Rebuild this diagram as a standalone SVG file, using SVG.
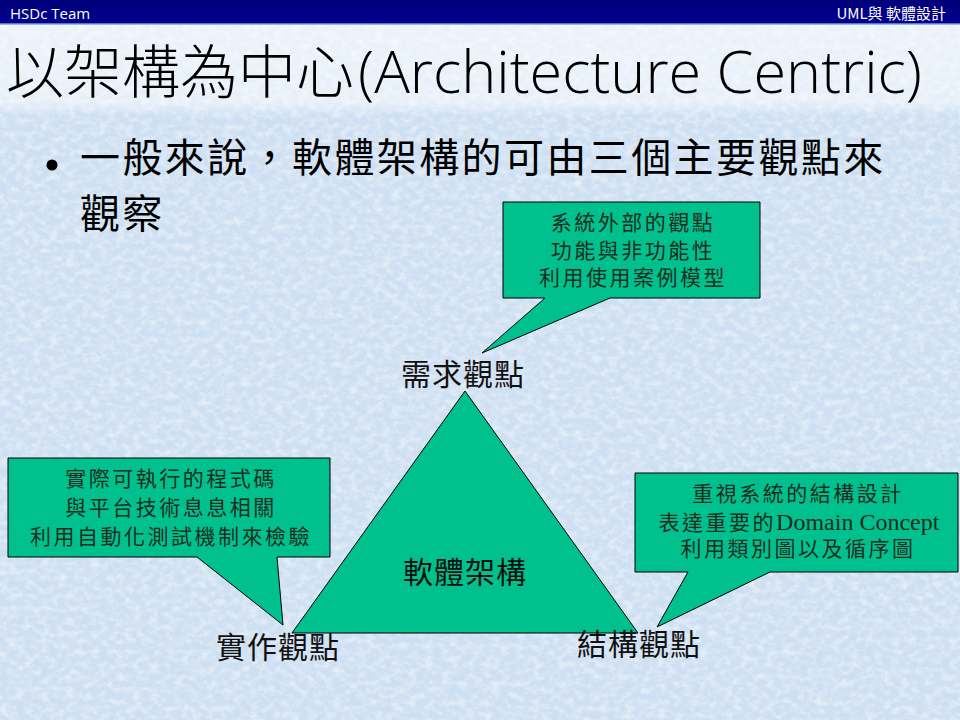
<svg xmlns="http://www.w3.org/2000/svg" width="960" height="720" viewBox="0 0 960 720">
  <defs>
    <linearGradient id="hdr" x1="0" y1="0" x2="0" y2="1">
      <stop offset="0" stop-color="#00007a"/>
      <stop offset="1" stop-color="#000090"/>
    </linearGradient>
    <filter id="tex" x="0" y="0" width="100%" height="100%">
      <feTurbulence type="fractalNoise" baseFrequency="0.12 0.16" numOctaves="4" seed="7" result="n"/>
      <feColorMatrix in="n" type="matrix" values="0 0 0 0 1  0 0 0 0 1  0 0 0 0 1  1.8 0 0 0 -0.7"/>
    </filter>
    <filter id="tex2" x="0" y="0" width="100%" height="100%">
      <feTurbulence type="fractalNoise" baseFrequency="0.2" numOctaves="3" seed="3" result="n"/>
      <feColorMatrix in="n" type="matrix" values="0 0 0 0 0.66  0 0 0 0 0.77  0 0 0 0 0.9  1.6 0 0 0 -0.75"/>
    </filter>
    <linearGradient id="top" x1="0" y1="0" x2="0" y2="1">
      <stop offset="0" stop-color="#ffffff" stop-opacity="0.6"/>
      <stop offset="0.85" stop-color="#ffffff" stop-opacity="0.5"/>
      <stop offset="1" stop-color="#ffffff" stop-opacity="0"/>
    </linearGradient>
  </defs>
  <style>
    .cjk { font-family: "Noto Sans CJK TC", "Noto Sans CJK SC", sans-serif; }
    .lat { font-family: "Open Sans", "Noto Sans", "Liberation Sans", sans-serif; }
    .call { fill: #00c08e; stroke: #000000; stroke-width: 1; }
    .ctext { font-family: "Noto Sans CJK TC", "Noto Sans CJK SC", sans-serif; font-size: 21px; letter-spacing: 2.5px; fill: #1c2e22; text-anchor: middle; }
    .label { font-family: "Noto Sans CJK TC", "Noto Sans CJK SC", sans-serif; font-size: 30px; letter-spacing: 1px; fill: #111111; }
    .serif { font-family: "Liberation Serif", "Times New Roman", serif; font-size: 24px; letter-spacing: 0; }
  </style>

  <!-- background -->
  <rect x="0" y="0" width="960" height="720" fill="#cddff2"/>
  <rect x="0" y="0" width="960" height="720" filter="url(#tex2)"/>
  <rect x="0" y="0" width="960" height="720" filter="url(#tex)" opacity="0.6"/>
  <rect x="0" y="24" width="960" height="92" fill="url(#top)"/>

  <!-- header bar -->
  <g id="header">
    <rect x="0" y="0" width="960" height="24" fill="url(#hdr)"/>
    <rect x="0" y="23" width="960" height="1.5" fill="#5a78c0"/>
    <text x="10" y="19" class="lat" font-size="15" fill="#ffffff">HSDc Team</text>
    <text x="946" y="19" class="cjk" font-size="15" fill="#ffffff" text-anchor="end">UML與 軟體設計</text>
  </g>

  <!-- title -->
  <g id="title">
    <text x="6" y="93" class="cjk" font-size="58" font-weight="300" fill="#000000">以架構為中心</text>
    <text x="358" y="93" class="lat" font-size="58" font-weight="300" fill="#000000" textLength="564" lengthAdjust="spacingAndGlyphs">(Architecture Centric)</text>
  </g>

  <!-- bullet -->
  <g id="bullet">
    <circle cx="52" cy="165" r="5.5" fill="#000000"/>
    <text x="80" y="172" class="cjk" font-size="40" letter-spacing="2.4" fill="#000000">一般來說，軟體架構的可由三個主要觀點來</text>
    <text x="80" y="228" class="cjk" font-size="40" letter-spacing="2.4" fill="#000000">觀察</text>
  </g>

  <!-- central triangle -->
  <g id="triangle">
    <polygon points="465,391 638,633 292,633" class="call"/>
    <text x="465" y="583" class="label" text-anchor="middle" fill="#16281c">軟體架構</text>
  </g>

  <!-- vertex labels -->
  <g id="label-requirement">
    <text x="401" y="385" class="label">需求觀點</text>
  </g>
  <g id="label-implementation">
    <text x="216" y="658" class="label">實作觀點</text>
  </g>
  <g id="label-structure">
    <text x="577" y="655" class="label">結構觀點</text>
  </g>

  <!-- callouts -->
  <g id="callout-requirement">
    <path d="M503,202 H760 V298 H610 L482,353 L545,298 H503 Z" class="call"/>
    <text x="633" y="230" class="ctext">系統外部的觀點</text>
    <text x="633" y="258" class="ctext">功能與非功能性</text>
    <text x="633" y="285" class="ctext">利用使用案例模型</text>
  </g>

  <g id="callout-implementation">
    <path d="M8,458 H330 V557 H277 L283,625 L197,557 H8 Z" class="call"/>
    <text x="171" y="486" class="ctext">實際可執行的程式碼</text>
    <text x="171" y="515" class="ctext">與平台技術息息相關</text>
    <text x="171" y="544" class="ctext">利用自動化測試機制來檢驗</text>
  </g>

  <g id="callout-structure">
    <path d="M635,473 H958 V572 H770 L657,627 L688,572 H635 Z" class="call"/>
    <text x="798" y="501" class="ctext">重視系統的結構設計</text>
    <text x="799" y="530" class="ctext">表達重要的<tspan class="serif">Domain Concept</tspan></text>
    <text x="798" y="556" class="ctext">利用類別圖以及循序圖</text>
  </g>
</svg>
